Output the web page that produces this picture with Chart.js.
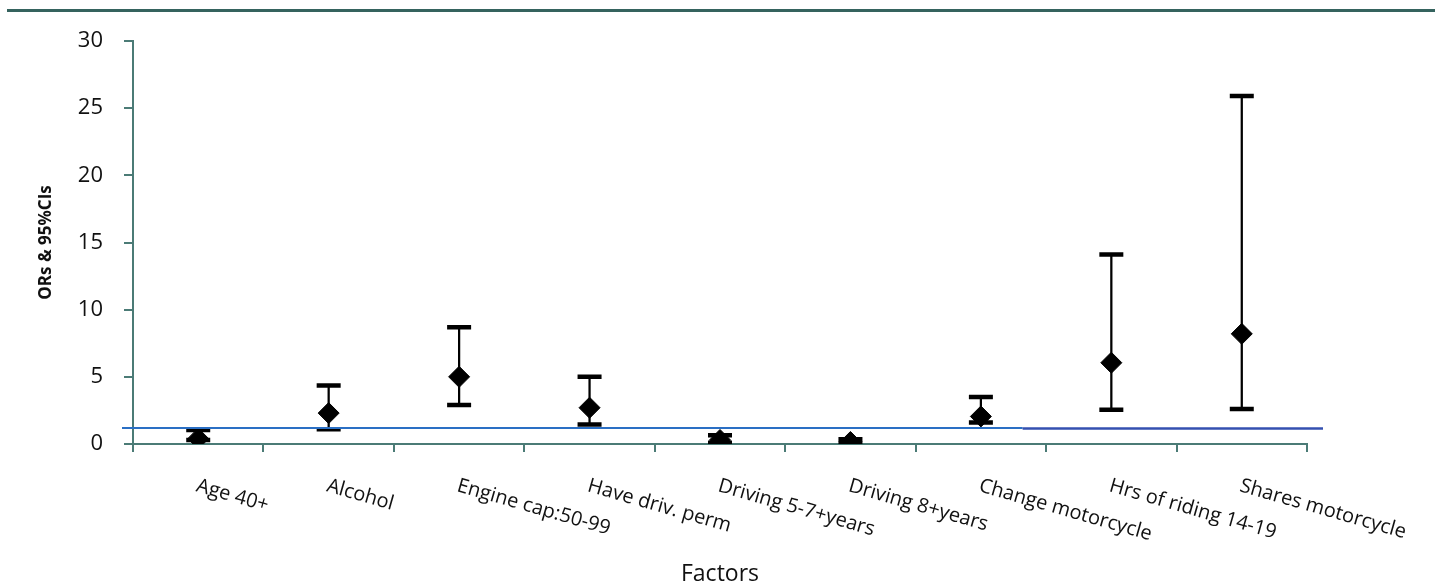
<!DOCTYPE html>
<html>
<head>
<meta charset="utf-8">
<script src="https://cdn.jsdelivr.net/npm/chart.js@4.4.1/dist/chart.umd.min.js"></script>
<style>
  html, body { margin: 0; padding: 0; background: #ffffff; }
  #wrap { position: relative; width: 1435px; height: 586px; overflow: hidden; }
  #rule { position: absolute; left: 7px; right: 0; top: 9px; height: 3px; background: #35635e; }
  canvas { position: absolute; left: 0; top: 0; }
</style>
</head>
<body>
<div id="wrap">
  <canvas id="c" width="1435" height="586"></canvas>
  <div id="rule"></div>
</div>
<script>
// ---- data ----
const categories = ["Age 40+", "Alcohol", "Engine cap:50-99", "Have driv. perm", "Driving 5-7+years",
                    "Driving 8+years", "Change motorcycle", "Hrs of riding 14-19", "Shares motorcycle"];
const orValues = [0.4, 2.3, 5.0, 2.7, 0.3, 0.15, 2.05, 6.05, 8.2];
const ciLower  = [0.3, 1.1, 2.9, 1.45, 0.1, 0.05, 1.6, 2.55, 2.6];
const ciUpper  = [1.05, 4.35, 8.7, 5.0, 0.65, 0.35, 3.5, 14.1, 25.9];
const yTicks   = [0, 5, 10, 15, 20, 25, 30];
const refValue = 1.2;
const xTitle = "Factors";
const yTitle = "ORs & 95%CIs";

const AXIS = '#4b7b76';
const TEXT = '#111111';
const FONT = '"Open Sans", "Noto Sans", sans-serif';

const ciRanges = categories.map((c, i) => [ciLower[i], ciUpper[i]]);

const extrasPlugin = {
  id: 'extras',
  afterDatasetsDraw(chart) {
    const ctx = chart.ctx;
    const x = chart.scales.x, y = chart.scales.y;
    const area = chart.chartArea;
    const yy = y.getPixelForValue(refValue);
    const xl = area.left - 11, xr = area.right + 16;
    const xb = x.getPixelForValue(6.32);
    ctx.save();
    ctx.lineCap = 'butt';
    ctx.strokeStyle = '#2a6fc4';
    ctx.lineWidth = 2;
    ctx.beginPath(); ctx.moveTo(xl, yy); ctx.lineTo(xb, yy); ctx.stroke();
    ctx.strokeStyle = '#3450b0';
    ctx.lineWidth = 2.5;
    ctx.beginPath(); ctx.moveTo(xb, yy + 0.5); ctx.lineTo(xr, yy + 0.5); ctx.stroke();
    ctx.restore();
  },
  afterDraw(chart) {
    const ctx = chart.ctx;
    const x = chart.scales.x;
    const base = chart.chartArea.bottom + 47;
    ctx.save();
    ctx.font = '20px ' + FONT;
    ctx.fillStyle = TEXT;
    ctx.textAlign = 'left';
    ctx.textBaseline = 'alphabetic';
    categories.forEach((lab, i) => {
      const px = x.getPixelForValue(i) - 3;
      ctx.save();
      ctx.translate(px, base);
      ctx.rotate(16 * Math.PI / 180);
      ctx.fillText(lab, 0, 0);
      ctx.restore();
    });
    ctx.restore();
  }
};

new Chart(document.getElementById('c'), {
  type: 'bar',
  data: {
    labels: categories,
    datasets: [
      {
        type: 'bar', label: 'CI', data: ciRanges, backgroundColor: '#000000',
        borderWidth: 0, barThickness: 1.6, order: 4
      },
      {
        type: 'line', label: 'Upper', data: ciUpper, showLine: false,
        pointStyle: 'line', pointRadius: 12, pointBorderWidth: 4.5,
        borderColor: '#000000', backgroundColor: '#000000', order: 3
      },
      {
        type: 'line', label: 'Lower', data: ciLower, showLine: false,
        pointStyle: 'line', pointRadius: 12, pointBorderWidth: 4.5,
        borderColor: '#000000', backgroundColor: '#000000', order: 2
      },
      {
        type: 'line', label: 'OR', data: orValues, showLine: false,
        pointStyle: 'rectRot', pointRadius: 10.5, pointBorderWidth: 1,
        borderColor: '#000000', backgroundColor: '#000000', order: 1
      }
    ]
  },
  options: {
    responsive: false,
    animation: false,
    events: [],
    layout: { padding: { top: 41, right: 128, left: 0, bottom: 0 } },
    plugins: { legend: { display: false }, tooltip: { enabled: false }, title: { display: false } },
    scales: {
      x: {
        type: 'category',
        offset: true,
        grid: { offset: true, drawOnChartArea: false, drawTicks: true, tickLength: 8, color: AXIS, lineWidth: 2 },
        border: { display: true, color: AXIS, width: 2 },
        ticks: { display: false },
        title: { display: true, text: xTitle, color: TEXT,
                 font: { family: FONT, size: 23, lineHeight: 1 }, padding: { top: 0, bottom: 0 } },
        afterFit(s) { s.height = 142; }
      },
      y: {
        min: 0, max: 30,
        afterBuildTicks(s) { s.ticks = yTicks.map(v => ({ value: v })); },
        grid: { drawOnChartArea: false, drawTicks: true, tickLength: 9, color: AXIS, lineWidth: 2 },
        border: { display: true, color: AXIS, width: 2 },
        ticks: { color: TEXT, font: { family: FONT, size: 22 }, padding: 21 },
        title: { display: true, text: yTitle, color: TEXT,
                 font: { family: FONT, size: 17, weight: 'bold', lineHeight: 1.2 }, padding: { top: 35.8, bottom: 0 } },
        afterFit(s) { s.width = 133; }
      }
    }
  },
  plugins: [extrasPlugin]
});
</script>
</body>
</html>
